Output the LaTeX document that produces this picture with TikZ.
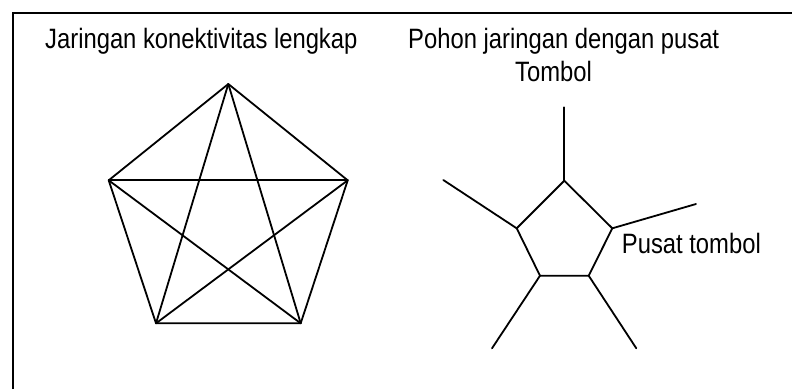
\documentclass[tikz,border=0pt]{standalone}
\usepackage{fontspec}
\setmainfont[FakeStretch=0.85]{Liberation Sans}
\begin{document}
\begin{tikzpicture}[x=1pt,y=-1pt,
  edge/.style={line width=1.8pt,line cap=round,line join=round},
  frameline/.style={line width=2pt},
  lbl/.style={inner sep=0pt,anchor=base west,font=\fontsize{28}{33}\selectfont}]
\useasboundingbox (0,0) rectangle (792,389);
% frame (open on right and bottom)
\coordinate (fbl) at (12.5,389);
\coordinate (ftl) at (12.5,12.5);
\coordinate (ftr) at (792,12.5);
\draw[frameline] (fbl) -- (ftl) -- (ftr);
% titles
\node[lbl] (t1) at (45,48.3) {Jaringan konektivitas lengkap};
\node[lbl] (t2) at (408,48.3) {Pohon jaringan dengan pusat};
\node[lbl] (t3) at (515,81.7) {Tombol};
\node[lbl] (t4) at (621.7,253.3) {Pusat tombol};
% complete graph K5
\coordinate (a1) at (228.3,84);
\coordinate (a2) at (347.7,180.3);
\coordinate (a3) at (300.7,323.3);
\coordinate (a4) at (156,323.3);
\coordinate (a5) at (108.7,180.3);
\draw[edge] (a1) -- (a2) -- (a3) -- (a4) -- (a5) -- cycle;
\draw[edge] (a1) -- (a3);
\draw[edge] (a1) -- (a4);
\draw[edge] (a2) -- (a4);
\draw[edge] (a2) -- (a5);
\draw[edge] (a3) -- (a5);
% pentagon with spokes
\coordinate (b1) at (564.3,180.7);
\coordinate (b2) at (612.3,228.3);
\coordinate (b3) at (588.7,275.7);
\coordinate (b4) at (540,275.7);
\coordinate (b5) at (516.7,228.3);
\coordinate (c1) at (564.3,107.3);
\coordinate (c2) at (696,204);
\coordinate (c3) at (636.3,348.3);
\coordinate (c4) at (492,348.3);
\coordinate (c5) at (443.3,180);
\draw[edge] (b1) -- (b2) -- (b3) -- (b4) -- (b5) -- cycle;
\draw[edge] (b1) -- (c1);
\draw[edge] (b2) -- (c2);
\draw[edge] (b3) -- (c3);
\draw[edge] (b4) -- (c4);
\draw[edge] (b5) -- (c5);
\end{tikzpicture}
\end{document}
